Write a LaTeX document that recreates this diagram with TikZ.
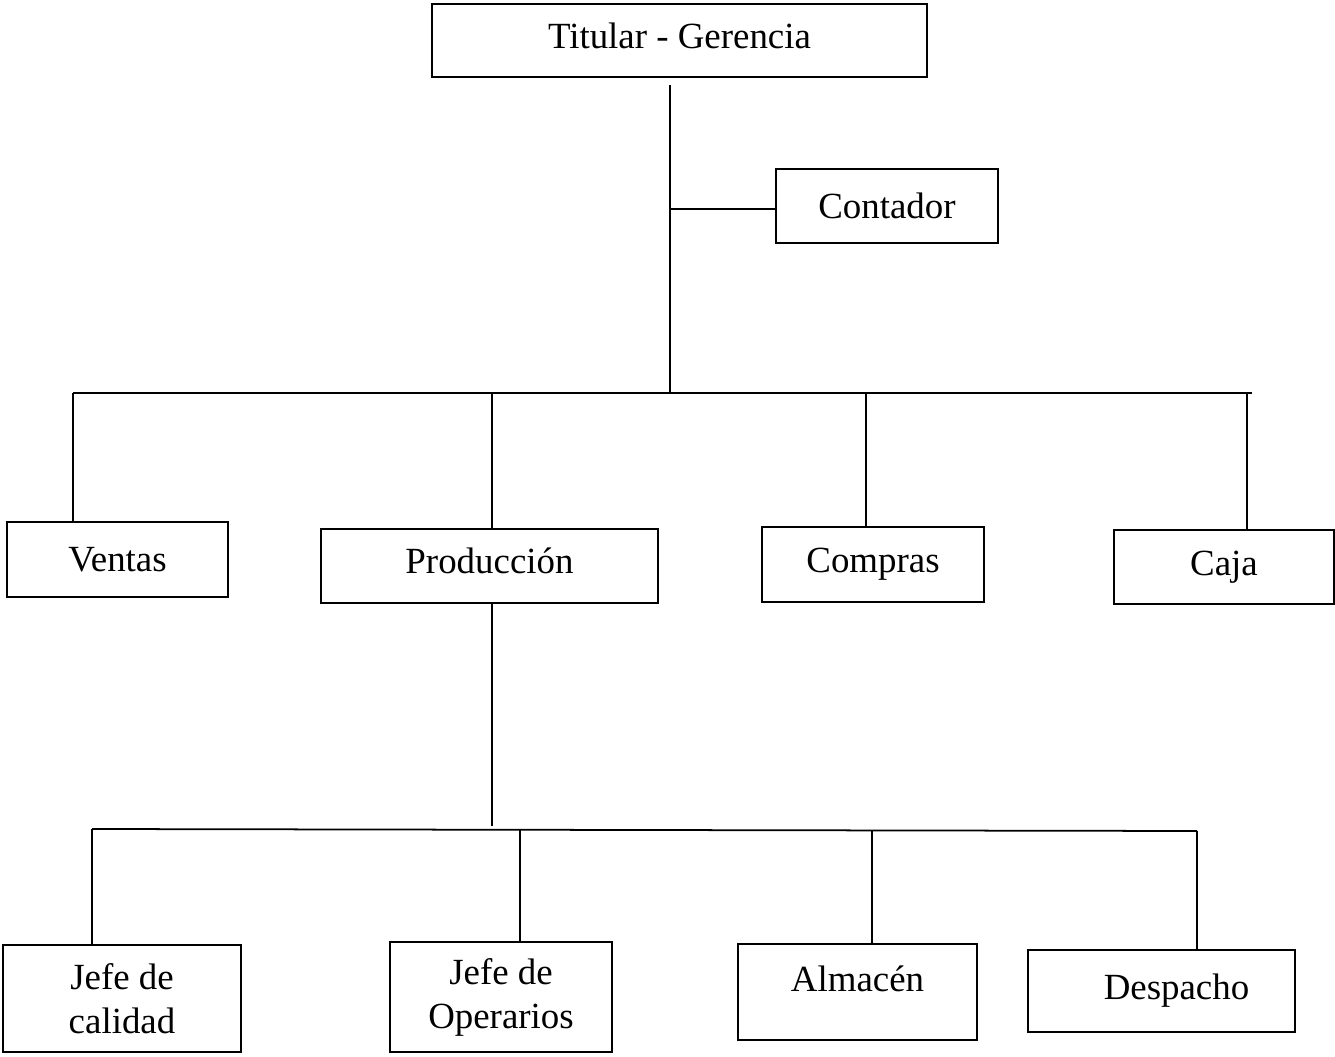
\documentclass[tikz,border=0pt]{standalone}
\usepackage{fontspec}
\setmainfont{Liberation Serif}

\begin{document}
\begin{tikzpicture}[x=0.02cm,y=-0.02cm,line width=1pt,
   box/.style={draw,rectangle,inner sep=0pt,align=center,
     font=\fontsize{21}{25}\selectfont}]
   \useasboundingbox (0,0) rectangle (1335,1057);
   % top levels
   \node[box,minimum width=9.9cm,minimum height=1.46cm,text depth=0.2cm] (titular) at (679.5,40.5) {Titular - Gerencia};
   \node[box,minimum width=4.44cm,minimum height=1.48cm] (contador) at (887,206) {Contador};
   \node[box,minimum width=4.42cm,minimum height=1.5cm] (ventas) at (117.5,559.5) {Ventas};
   \node[box,minimum width=6.74cm,minimum height=1.48cm,text depth=0.2cm] (produccion) at (489.5,566) {Producción};
   \node[box,minimum width=4.44cm,minimum height=1.5cm] (compras) at (873,564.5) {Compras};
   \node[box,minimum width=4.4cm,minimum height=1.48cm] (caja) at (1224,567) {Caja};
   % under produccion
   \node[box,minimum width=4.76cm,minimum height=2.14cm] (calidad) at (122,998.5) {Jefe de\\calidad};
   \node[box,minimum width=4.44cm,minimum height=2.2cm] (operarios) at (501,997) {Jefe de\\Operarios};
   \node[box,minimum width=4.78cm,minimum height=1.92cm,text depth=0.52cm] (almacen) at (857.5,992) {Almacén};
   \node[box,minimum width=5.34cm,minimum height=1.64cm] (despacho) at (1161.5,991) {\hspace{0.6cm}Despacho};
   % connectors
   \coordinate (trunk) at (670,85);
   \coordinate (hub) at (670,393);
   \coordinate (tocont) at (670,209);
   \coordinate (busL) at (73,393);
   \coordinate (busR) at (1252,393);
   \coordinate (dprod) at (492,393);
   \coordinate (dcomp) at (866,393);
   \coordinate (dcaja) at (1247,393);
   \draw (trunk) -- (hub);
   \draw (tocont) -- (tocont -| contador.west);
   \draw (busL) -- (busR);
   \draw (busL) -- (busL |- ventas.north);
   \draw (dprod) -- (dprod |- produccion.north);
   \draw (dcomp) -- (dcomp |- compras.north);
   \draw (dcaja) -- (dcaja |- caja.north);
   \coordinate (pdown) at (492,603);
   \coordinate (phub) at (492,826);
   \coordinate (bus2L) at (92,829);
   \coordinate (bus2R) at (1197,831);
   \coordinate (dop) at (520,830);
   \coordinate (dalm) at (872,830);
   \draw (pdown) -- (phub);
   \draw (bus2L) -- (bus2R);
   \draw (bus2L) -- (bus2L |- calidad.north);
   \draw (dop) -- (dop |- operarios.north);
   \draw (dalm) -- (dalm |- almacen.north);
   \draw (bus2R) -- (bus2R |- despacho.north);
\end{tikzpicture}
\end{document}
